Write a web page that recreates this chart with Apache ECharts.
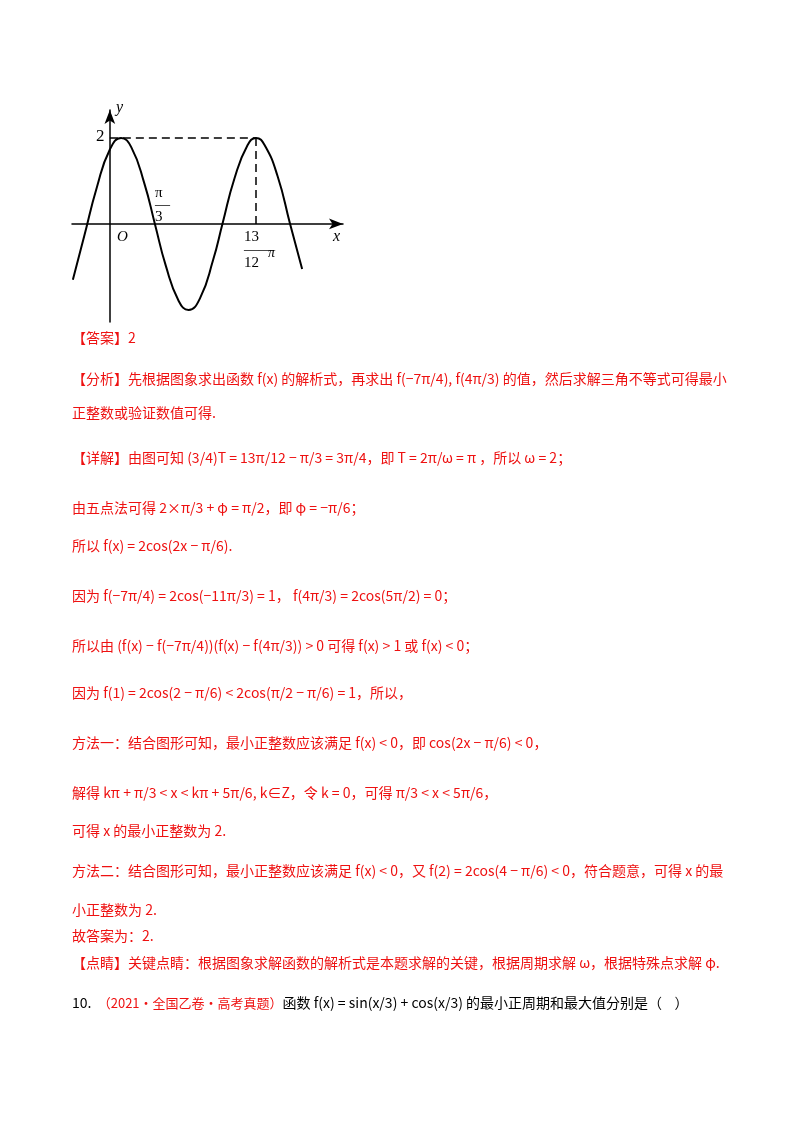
<!DOCTYPE html>
<html>
<head>
<meta charset="utf-8">
<script src="https://cdn.jsdelivr.net/npm/echarts@6/dist/echarts.min.js"></script>
</head>
<body style="margin:0;background:#fff">
<div id="main" style="width:800px;height:1132px"></div>
<script>
// points
var xs = [-0.86, -0.6, -0.3, 0, 0.26, 0.5, 0.8, 1.05, 1.3, 1.6, 1.83, 2.1, 2.4, 2.62, 2.9, 3.2, 3.4, 3.6, 3.9, 4.19, 4.47];
var ys = [-1.30, -0.30, 0.86, 1.73, 2.00, 1.78, 0.95, -0.01, -0.97, -1.79, -2.00, -1.72, -0.84, 0.01, 1.07, 1.83, 2.00, 1.83, 1.11, 0.00, -1.05];
var peakX = 3.4, peakY = 2;

var red = '#ee1111';
var font = '"Noto Sans CJK SC", "Liberation Serif", serif';
var lines = [
  [340, '【答案】2'],
  [381, '【分析】先根据图象求出函数 f(x) 的解析式，再求出 f(−7π/4), f(4π/3) 的值，然后求解三角不等式可得最小'],
  [415, '正整数或验证数值可得.'],
  [460, '【详解】由图可知 (3/4)T = 13π/12 − π/3 = 3π/4，即 T = 2π/ω = π ，所以 ω = 2；'],
  [510, '由五点法可得 2×π/3 + φ = π/2，即 φ = −π/6；'],
  [548, '所以 f(x) = 2cos(2x − π/6).'],
  [598, '因为 f(−7π/4) = 2cos(−11π/3) = 1， f(4π/3) = 2cos(5π/2) = 0；'],
  [648, '所以由 (f(x) − f(−7π/4))(f(x) − f(4π/3)) > 0 可得 f(x) > 1 或 f(x) < 0；'],
  [695, '因为 f(1) = 2cos(2 − π/6) < 2cos(π/2 − π/6) = 1，所以，'],
  [745, '方法一：结合图形可知，最小正整数应该满足 f(x) < 0，即 cos(2x − π/6) < 0，'],
  [795, '解得 kπ + π/3 < x < kπ + 5π/6, k∈Z，令 k = 0，可得 π/3 < x < 5π/6，'],
  [833, '可得 x 的最小正整数为 2.'],
  [873, '方法二：结合图形可知，最小正整数应该满足 f(x) < 0，又 f(2) = 2cos(4 − π/6) < 0，符合题意，可得 x 的最'],
  [912, '小正整数为 2.'],
  [938, '故答案为：2.'],
  [965, '【点睛】关键点睛：根据图象求解函数的解析式是本题求解的关键，根据周期求解 ω，根据特殊点求解 φ.']
];

var graphics = lines.map(function (l) {
  return { type: 'text', left: 72, top: l[0] - 9,
    style: { text: l[1], fill: red, font: '14px ' + font } };
});
graphics.push({ type: 'text', left: 72, top: 996,
  style: { text: '{k|10.  }{r|（2021·全国乙卷·高考真题）}{k|函数 f(x) = sin(x/3) + cos(x/3) 的最小正周期和最大值分别是（    ）}',
    rich: { k: { fill: '#000', font: '14px ' + font }, r: { fill: red, font: '13px ' + font } } } });
var txt = function (x, y, t, f, lh) {
  return { type: 'text', left: x, top: y, style: { text: t, fill: '#000', font: f, lineHeight: lh } };
};
graphics.push(txt(96, 128, '2', '17px "Liberation Serif", serif'));
graphics.push(txt(155, 186, 'π\n—\n3', '15px "Liberation Serif", serif', 12));
graphics.push(txt(117, 230, 'O', 'italic 15px "Liberation Serif", serif'));
graphics.push(txt(244, 230, '13\n——\n12', '15px "Liberation Serif", serif', 13));
graphics.push(txt(268, 246, 'π', 'italic 14px "Liberation Serif", serif'));
graphics.push(txt(333, 229, 'x', 'italic 16px "Liberation Serif", serif'));
graphics.push(txt(116, 100, 'y', 'italic 16px "Liberation Serif", serif'));

var chart = echarts.init(document.getElementById('main'));
chart.setOption({
  animation: false,
  grid: { left: 72, top: 110, width: 271, height: 212 },
  xAxis: { type: 'value', min: -0.88, max: 5.42, splitLine: { show: false },
    axisLabel: { show: false }, axisTick: { show: false },
    axisLine: { onZero: true, symbol: ['none', 'arrow'], symbolSize: [8, 14], lineStyle: { color: '#000', width: 1.5 } } },
  yAxis: { type: 'value', min: -2.28, max: 2.65, splitLine: { show: false },
    axisLabel: { show: false }, axisTick: { show: false },
    axisLine: { onZero: true, symbol: ['none', 'arrow'], symbolSize: [8, 14], lineStyle: { color: '#000', width: 1.5 } } },
  series: [{
    type: 'line', smooth: 0.5, symbol: 'none',
    lineStyle: { color: '#000', width: 2 },
    data: xs.map(function (x, i) { return [x, ys[i]]; }),
    markLine: { silent: true, symbol: 'none', label: { show: false },
      lineStyle: { color: '#000', type: [8, 5], width: 1.5 },
      data: [
        [{ coord: [0, peakY] }, { coord: [peakX, peakY] }],
        [{ coord: [peakX, peakY] }, { coord: [peakX, 0] }]
      ] }
  }],
  graphic: graphics
});
</script>
</body>
</html>
